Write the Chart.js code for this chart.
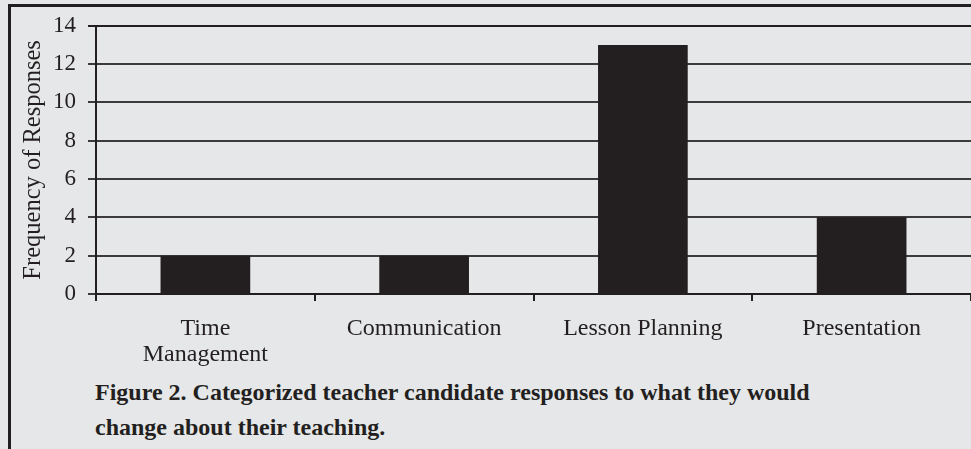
<!DOCTYPE html>
<html>
<head>
<meta charset="utf-8">
<script src="https://cdn.jsdelivr.net/npm/chart.js@4"></script>
<style>
    body { margin: 0; background: #e6e7e8; }
    #wrap { position: relative; width: 971px; height: 449px; background: #e6e7e8; overflow: hidden; }
    #frame { position: absolute; left: 8px; top: 4px; width: 970px; height: 450px;
             border-left: 3px solid #231f20; border-top: 3px solid #231f20; }
    #chart-box { position: absolute; left: 0; top: 0; width: 971px; height: 375px; }
    #caption { position: absolute; left: 95px; top: 375px; color: #231f20;
               font: bold 24px 'Liberation Serif', 'Times New Roman', serif; line-height: 35px; }
</style>
</head>
<body>
<div id="wrap">
    <div id="frame"></div>
    <div id="chart-box"><canvas id="chart" width="971" height="375"></canvas></div>
    <div id="caption">Figure 2. Categorized teacher candidate responses to what they would<br>change about their teaching.</div>
</div>
<script>
// Chart data
const categories = [['Time', 'Management'], 'Communication', 'Lesson Planning', 'Presentation'];
const responses = [2, 2, 13, 4];
const yTicks = [0, 2, 4, 6, 8, 10, 12, 14];

const ink = '#231f20';
const serif = "'Liberation Serif', 'Times New Roman', serif";

new Chart(document.getElementById('chart'), {
    type: 'bar',
    data: {
        labels: categories,
        datasets: [{
            data: responses,
            backgroundColor: ink,
            barPercentage: 0.41,
            categoryPercentage: 1
        }]
    },
    options: {
        responsive: false,
        animation: false,
        layout: { padding: { left: 10, top: 25, right: 0, bottom: 1 } },
        plugins: {
            legend: { display: false },
            tooltip: { enabled: false }
        },
        scales: {
            x: {
                afterFit: s => { s.height = 80; },
                grid: {
                    offset: true,
                    drawOnChartArea: false,
                    tickLength: 7,
                    color: ink,
                    lineWidth: 2
                },
                border: { display: true, color: ink, width: 2 },
                ticks: {
                    color: ink,
                    padding: 15,
                    maxRotation: 0,
                    font: { family: serif, size: 24, lineHeight: 1.083 }
                }
            },
            y: {
                min: yTicks[0],
                max: yTicks[yTicks.length - 1],
                afterFit: s => { s.width = 86; },
                afterBuildTicks: s => { s.ticks = yTicks.map(v => ({ value: v })); },
                grid: {
                    color: c => c.tick && c.tick.value === 14 ? ink : '#3d3a3b',
                    lineWidth: 2,
                    tickLength: 8
                },
                border: { display: true, color: ink, width: 2 },
                ticks: {
                    color: ink,
                    padding: 12,
                    font: { family: serif, size: 23 }
                },
                title: {
                    display: true,
                    text: 'Frequency of Responses',
                    color: ink,
                    padding: { top: 9, bottom: 0 },
                    font: { family: serif, size: 24.5 }
                }
            }
        }
    }
});
</script>
</body>
</html>
